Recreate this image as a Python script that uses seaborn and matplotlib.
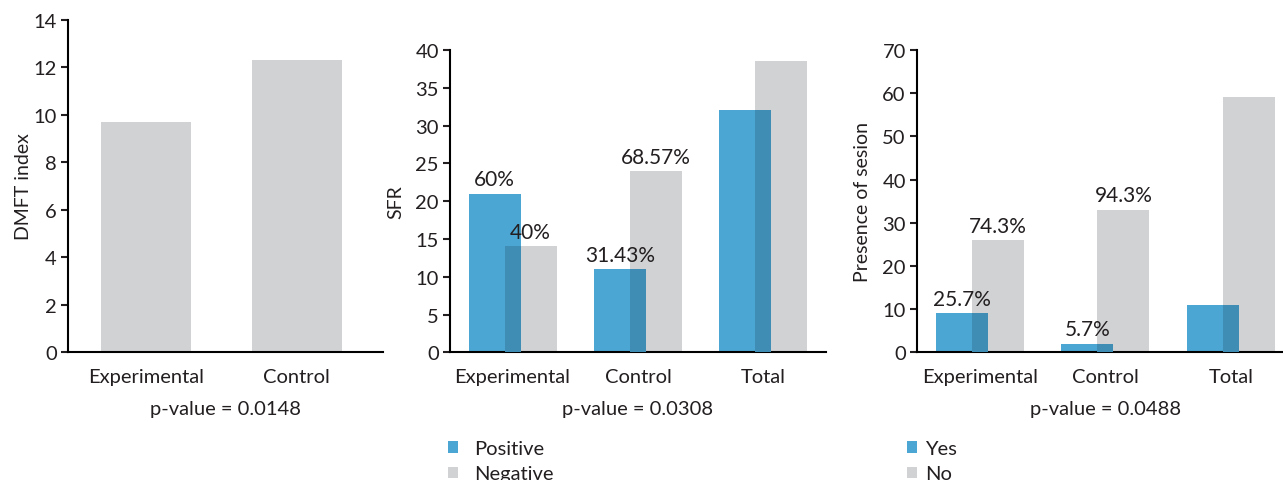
import numpy as np
import pandas as pd
import matplotlib
matplotlib.use("Agg")
import matplotlib.pyplot as plt
from matplotlib.patches import Patch
import seaborn as sns

# ---- data -------------------------------------------------------------
dmft_groups = ["Experimental", "Control"]
dmft_values = [9.7, 12.3]
dmft_pvalue = "p-value = 0.0148"

sfr_groups = ["Experimental", "Control", "Total"]
sfr_positive = [21, 11, 32]
sfr_negative = [14, 24, 38.6]
sfr_pos_labels = ["60%", "31.43%", None]
sfr_neg_labels = ["40%", "68.57%", None]
sfr_pvalue = "p-value = 0.0308"

lesion_groups = ["Experimental", "Control", "Total"]
lesion_yes = [9, 2, 11]
lesion_no = [26, 33, 59]
lesion_yes_labels = ["25.7%", "5.7%", None]
lesion_no_labels = ["74.3%", "94.3%", None]
lesion_pvalue = "p-value = 0.0488"

# ---- style ------------------------------------------------------------
BLUE = "#4ba6d3"
GREY = "#d1d2d4"
OVERLAP = "#3f8db5"
INK = "#231f20"
FS = 14.5

sns.set_theme(style="ticks")
plt.rcParams["font.family"] = ["Lato", "DejaVu Sans"]
plt.rcParams.update({
    "font.size": FS,
    "text.color": INK,
    "axes.labelcolor": INK,
    "xtick.color": INK,
    "ytick.color": INK,
    "axes.edgecolor": "black",
})

BAR_W = 0.414      # width of each paired bar
SHIFT = 0.1435     # half the distance between paired bar centres

fig = plt.figure(figsize=(12.83, 4.81), dpi=100)
ax1 = fig.add_axes([0.0528, 0.2655, 0.2455, 0.6915])
ax2 = fig.add_axes([0.3507, 0.2655, 0.2931, 0.6285])
ax3 = fig.add_axes([0.7147, 0.2655, 0.2938, 0.6285])


def style_axes(ax, ymax, step):
    sns.despine(ax=ax)
    for s in ("left", "bottom"):
        ax.spines[s].set_linewidth(1.5)
    ax.set_ylim(0, ymax)
    ax.set_yticks(np.arange(0, ymax + 0.1, step))
    ax.tick_params(axis="y", length=5, width=1.5, labelsize=FS, pad=3)
    ax.tick_params(axis="x", length=0, labelsize=FS, pad=11)


# ---- panel 1: DMFT index ---------------------------------------------
df1 = pd.DataFrame({"group": dmft_groups, "value": dmft_values})
sns.barplot(data=df1, x="group", y="value", color=GREY, saturation=1,
            width=0.6, linewidth=0, ax=ax1)
style_axes(ax1, 14, 2)
ax1.set_xlim(-0.52, 1.57)
ax1.set_ylabel("DMFT index", fontsize=FS - 0.5, labelpad=1)
ax1.set_xlabel(dmft_pvalue, fontsize=FS, labelpad=11)


def paired_panel(ax, groups, first, second, first_labels, second_labels,
                 ymax, step, ylabel, pvalue):
    idx = np.arange(len(groups))
    first = np.asarray(first, dtype=float)
    second = np.asarray(second, dtype=float)
    sns.barplot(x=idx - SHIFT, y=first, native_scale=True, color=BLUE,
                saturation=1, width=BAR_W, linewidth=0, ax=ax, zorder=2)
    sns.barplot(x=idx + SHIFT, y=second, native_scale=True, color=GREY,
                saturation=1, width=BAR_W, linewidth=0, ax=ax, zorder=2)
    # region where the two bars overlap is drawn in a darker blue
    sns.barplot(x=idx, y=np.minimum(first, second), native_scale=True,
                color=OVERLAP, saturation=1, width=BAR_W - 2 * SHIFT,
                linewidth=0, ax=ax, zorder=3)
    style_axes(ax, ymax, step)
    ax.set_xlim(-0.5, 2.5)
    ax.set_xticks(idx)
    ax.set_xticklabels(groups)
    for i, (h, lab) in enumerate(zip(first, first_labels)):
        if lab:
            ax.annotate(lab, (i - SHIFT, h), xytext=(0, 6),
                        textcoords="offset points", ha="center",
                        va="baseline", fontsize=FS + 0.5, zorder=5)
    for i, (h, lab) in enumerate(zip(second, second_labels)):
        if lab:
            ax.annotate(lab, (i + SHIFT, h), xytext=(0, 6),
                        textcoords="offset points", ha="center",
                        va="baseline", fontsize=FS + 0.5, zorder=5)
    ax.set_ylabel(ylabel, fontsize=FS - 0.5, labelpad=8)
    ax.set_xlabel(pvalue, fontsize=FS, labelpad=11)
    return [Patch(facecolor=BLUE, edgecolor="none"),
            Patch(facecolor=GREY, edgecolor="none")]


h2 = paired_panel(ax2, sfr_groups, sfr_positive, sfr_negative,
                  sfr_pos_labels, sfr_neg_labels, 40, 5, "SFR", sfr_pvalue)
ax2.legend(h2, ["Positive", "Negative"], loc="upper left",
           bbox_to_anchor=(-0.005, -0.29), frameon=False, fontsize=FS,
           handlelength=0.5, handleheight=0.5, handletextpad=0.8,
           borderpad=0, borderaxespad=0, labelspacing=0.42)

h3 = paired_panel(ax3, lesion_groups, lesion_yes, lesion_no,
                  lesion_yes_labels, lesion_no_labels, 70, 10,
                  "Presence of sesion", lesion_pvalue)
ax3.legend(h3, ["Yes", "No"], loc="upper left",
           bbox_to_anchor=(-0.027, -0.29), frameon=False, fontsize=FS,
           handlelength=0.5, handleheight=0.5, handletextpad=0.4,
           borderpad=0, borderaxespad=0, labelspacing=0.42)

fig.savefig("out.png", dpi=100)
